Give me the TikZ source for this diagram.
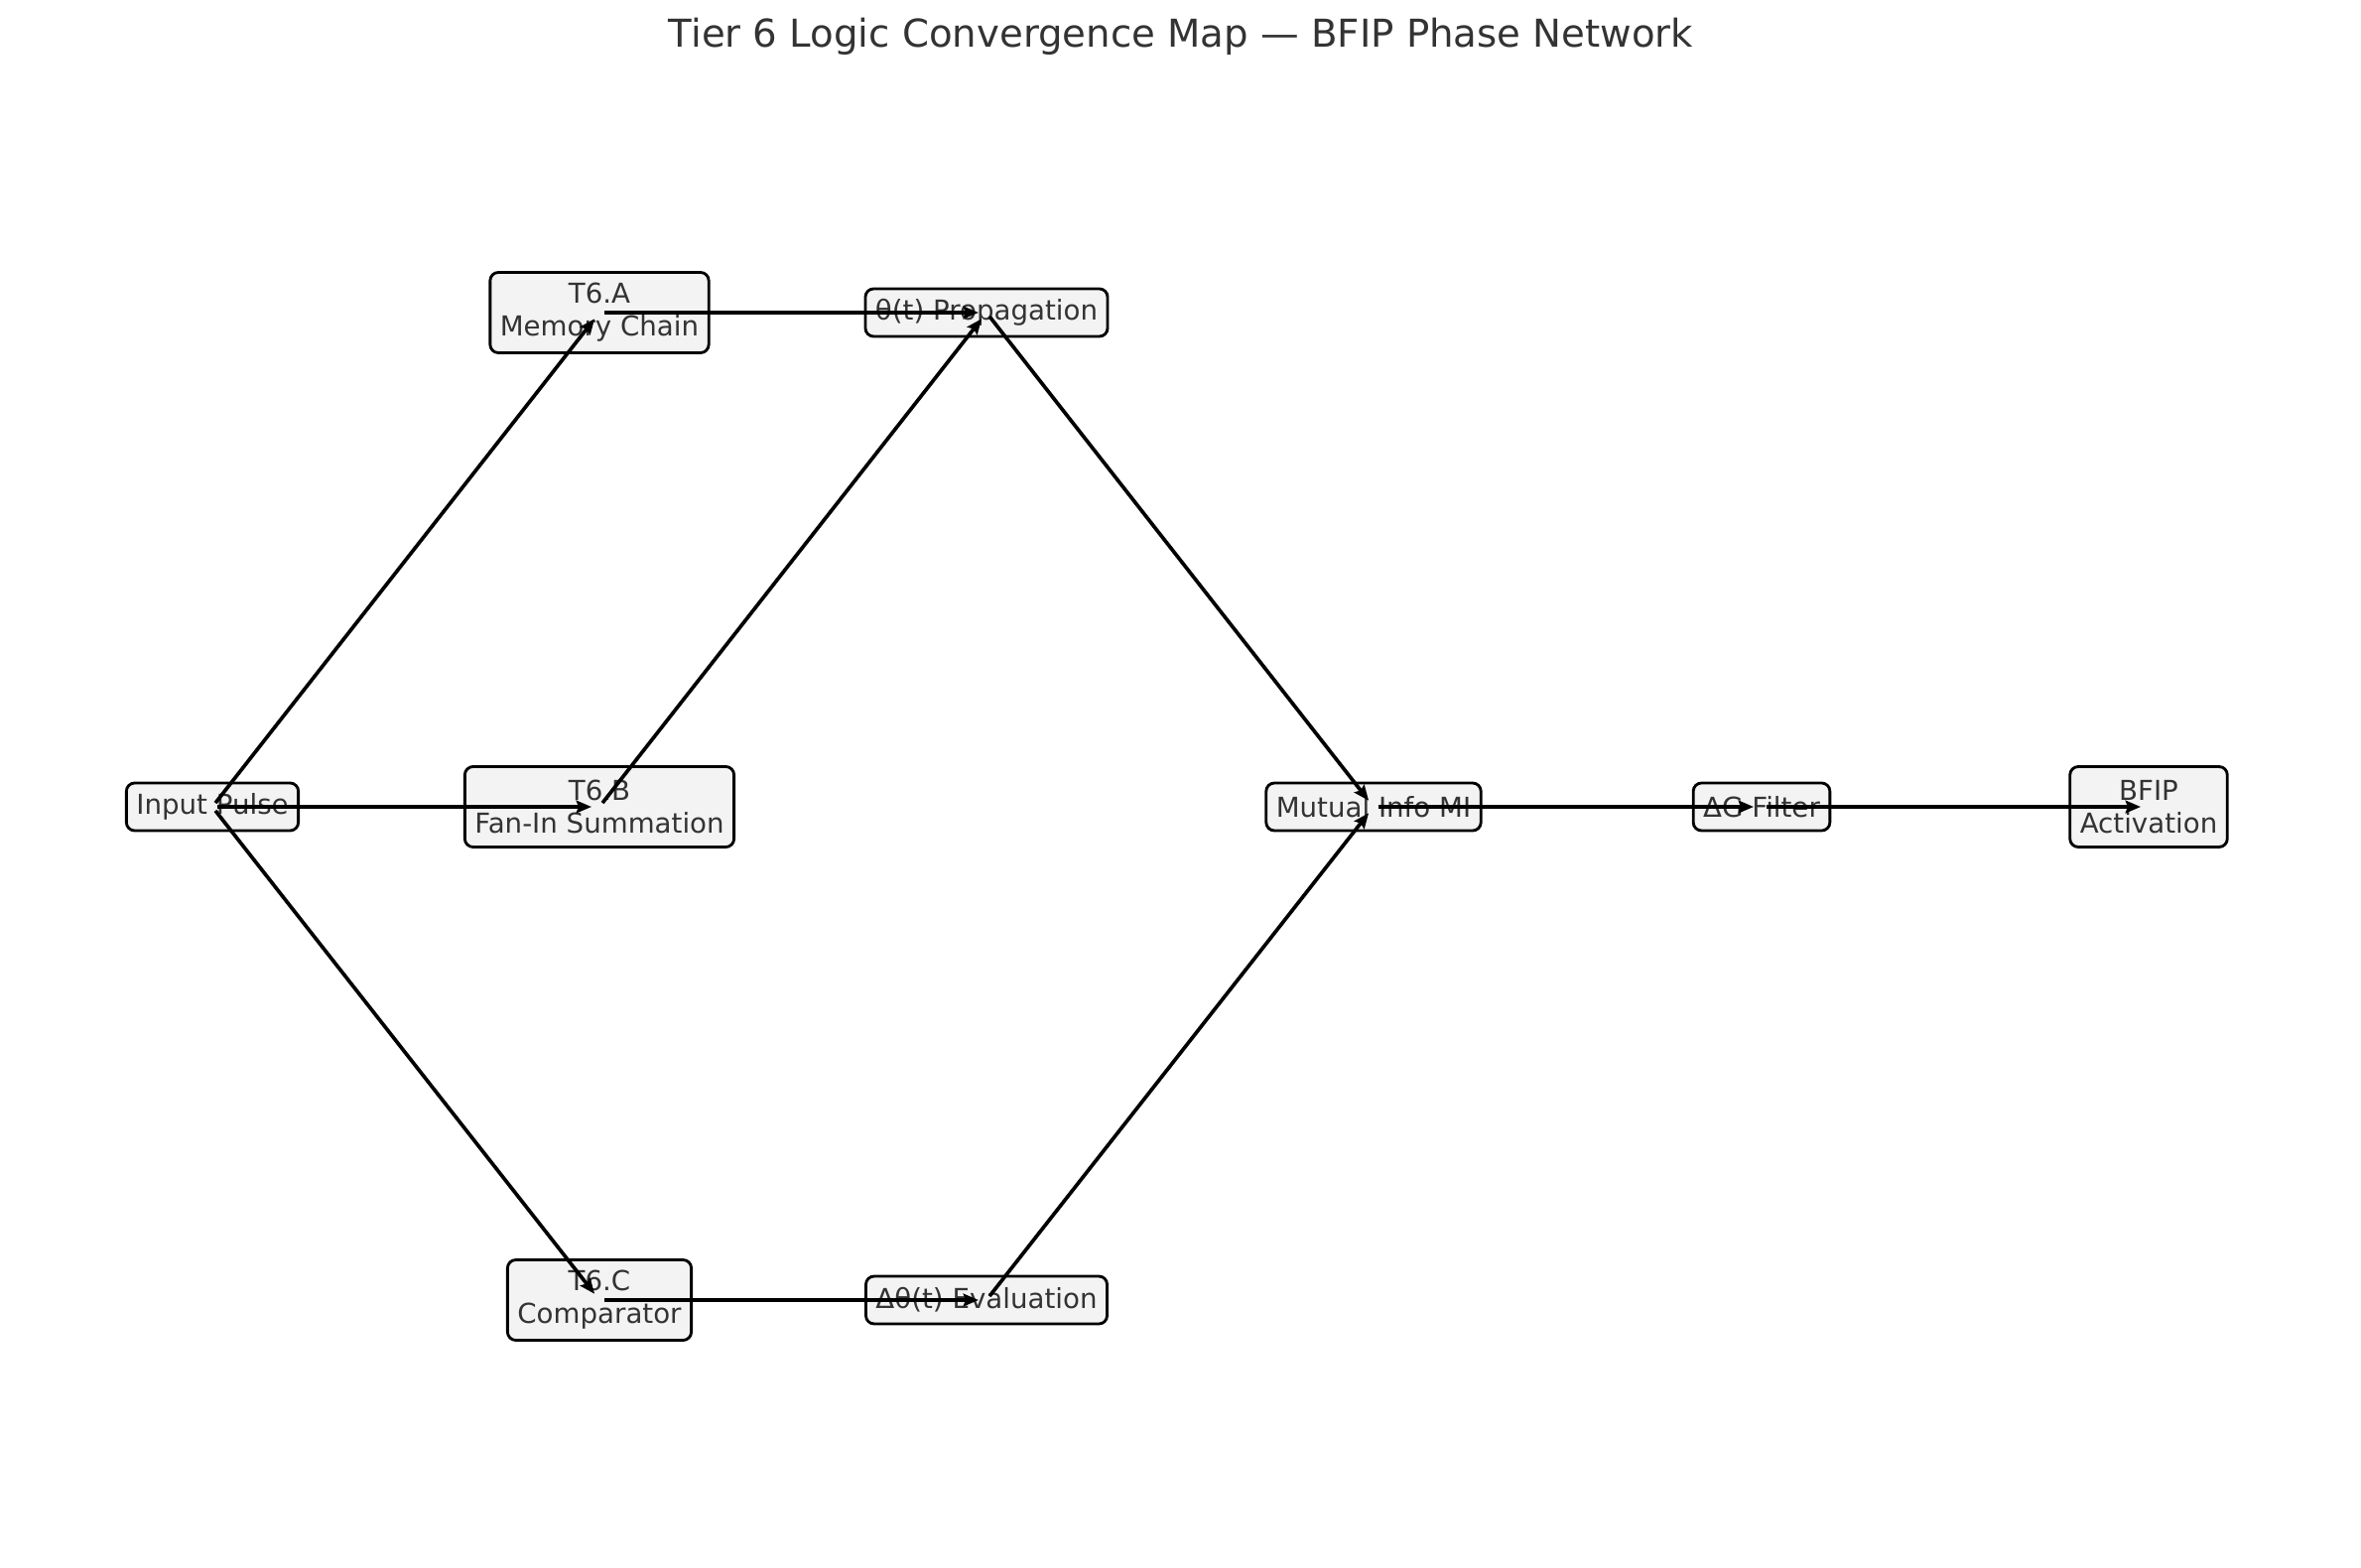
\documentclass[tikz,border=0pt]{standalone}
\usepackage{fontspec}
\setmainfont{DejaVu Sans}
\usetikzlibrary{arrows.meta}
\definecolor{txt}{RGB}{51,51,51}
\definecolor{boxfill}{RGB}{243,243,243}
\tikzset{
  nbox/.style={draw=black, line width=0.85pt, fill=boxfill, rounded corners=2.5pt,
    text=txt, font=\fontsize{8.3}{9.9}\selectfont, align=center,
    inner xsep=3pt, inner ysep=2pt, minimum height=14.4pt},
  tbox/.style={nbox, minimum height=24.3pt},
  edge/.style={draw=black, line width=1.1pt, shorten <=1.5pt, shorten >=2.4pt,
    -{Stealth[length=4.6pt, width=3.8pt, inset=0.7pt]}}
}
\begin{document}
\begin{tikzpicture}[x=0.3pt, y=-0.3pt]
\useasboundingbox (0,0) rectangle (2379,1580);
\node[text=txt, font=\fontsize{11.6}{14}\selectfont] (title) at (1190,37)
  {Tier 6 Logic Convergence Map — BFIP Phase Network};
\node[nbox] (in) at (214,813) {Input Pulse};
\node[tbox] (a) at (604,315) {T6.A\\Memory Chain};
\node[tbox] (b) at (604,813) {T6.B\\Fan-In Summation};
\node[tbox] (c) at (604,1310) {T6.C\\Comparator};
\node[nbox] (th) at (994,315) {θ(t) Propagation};
\node[nbox] (dth) at (994,1310) {Δθ(t) Evaluation};
\node[nbox] (mi) at (1384,813) {Mutual Info MI};
\node[nbox] (dg) at (1775,813) {ΔG Filter};
\node[tbox] (bf) at (2165,813) {BFIP\\Activation};
\draw[edge] (in.center) -- (a.center);
\draw[edge] (in.center) -- (b.center);
\draw[edge] (in.center) -- (c.center);
\draw[edge] (a.center) -- (th.center);
\draw[edge] (b.center) -- (th.center);
\draw[edge] (c.center) -- (dth.center);
\draw[edge] (th.center) -- (mi.center);
\draw[edge] (dth.center) -- (mi.center);
\draw[edge] (mi.center) -- (dg.center);
\draw[edge] (dg.center) -- (bf.center);
\end{tikzpicture}
\end{document}
